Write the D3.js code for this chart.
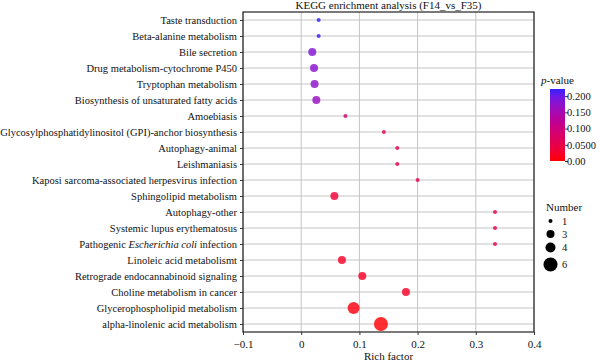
<!DOCTYPE html>
<html><head><meta charset="utf-8">
<script src="https://cdn.jsdelivr.net/npm/d3@7"></script>
<style>body{margin:0;background:#fff}svg{font-family:"Liberation Serif","DejaVu Serif",serif}</style>
</head><body><svg id="c" width="600" height="362"></svg>
<script>
const pathways = ["Taste transduction","Beta-alanine metabolism","Bile secretion","Drug metabolism-cytochrome P450","Tryptophan metabolism","Biosynthesis of unsaturated fatty acids","Amoebiasis","Glycosylphosphatidylinositol (GPI)-anchor biosynthesis","Autophagy-animal","Leishmaniasis","Kaposi sarcoma-associated herpesvirus infection","Sphingolipid metabolism","Autophagy-other","Systemic lupus erythematosus","Pathogenic Escherichia coli infection","Linoleic acid metabolismt","Retrograde endocannabinoid signaling","Choline metabolism in cancer","Glycerophospholipid metabolism","alpha-linolenic acid metabolism"];
const richFactor = [0.030,0.030,0.019,0.022,0.023,0.026,0.076,0.142,0.165,0.165,0.200,0.057,0.333,0.333,0.333,0.070,0.105,0.180,0.090,0.137];
const pValue = [0.222,0.220,0.185,0.180,0.175,0.165,0.085,0.065,0.060,0.060,0.057,0.030,0.055,0.055,0.055,0.020,0.018,0.020,0.006,0.002];
const geneNumber = [1,1,3,3,3,3,1,1,1,1,1,3,1,1,1,3,3,3,5,6];
const xTicks = [-0.1,0,0.1,0.2,0.3,0.4];
const pTicks = [0,0.05,0.1,0.15,0.2];
const pTickLabels = ["0.00","0.0500","0.100","0.150","0.200"];
const sizeBreaks = [1,3,4,6];

const svg = d3.select("#c");
const L=243,R=534,T=12,B=332;
const x = d3.scaleLinear().domain([-0.1,0.4]).range([L,R]);
const y = d3.scalePoint().domain(pathways).range([T,B]).padding(0.5);
const pMax = 0.222;
const color = d3.scaleLinear().domain([0,pMax]).range(["#ff0000","#3320ff"]).interpolate(d3.interpolateLab);
const size = d3.scaleLinear().domain([1,6]).range([2,7]);

// grid
const g = svg.append("g");
g.selectAll(".gx").data(xTicks).join("line").attr("x1",d=>x(d)).attr("x2",d=>x(d)).attr("y1",T).attr("y2",B).attr("stroke","#c4c4c4").attr("stroke-width",1);
g.selectAll(".gy").data(pathways).join("line").attr("x1",L).attr("x2",R).attr("y1",d=>y(d)).attr("y2",d=>y(d)).attr("stroke","#c4c4c4").attr("stroke-width",1);

// points
svg.append("g").selectAll("circle").data(pathways).join("circle")
  .attr("cx",(d,i)=>x(richFactor[i])).attr("cy",d=>y(d))
  .attr("r",(d,i)=>size(geneNumber[i]))
  .attr("fill",(d,i)=>color(pValue[i])).attr("fill-opacity",0.82);

// border
svg.append("rect").attr("x",L).attr("y",T).attr("width",R-L).attr("height",B-T).attr("fill","none").attr("stroke","#222").attr("stroke-width",1.2);

// axes
const xAxis = svg.append("g").attr("transform",`translate(0,${B})`).call(d3.axisBottom(x).tickValues(xTicks).tickSize(3).tickFormat(d=>d===0?"0":d3.format(".1f")(d).replace("-","\u2212")));
xAxis.select(".domain").remove();
xAxis.selectAll("text").attr("font-size",11).attr("fill","#111").attr("dy","0.9em").attr("font-family","Liberation Serif");
xAxis.selectAll("line").attr("stroke","#333");

const yAxis = svg.append("g").attr("transform",`translate(${L},0)`).call(d3.axisLeft(y).tickSize(3).tickPadding(3));
yAxis.select(".domain").remove();
yAxis.selectAll("line").attr("stroke","#333");
yAxis.selectAll("text").attr("font-size",10.5).attr("fill","#111").attr("font-family","Liberation Serif")
  .each(function(d){
    if(d.includes("Escherichia coli")){
      const t=d3.select(this); t.text(null);
      t.append("tspan").text("Pathogenic ");
      t.append("tspan").attr("font-style","italic").text("Escherichia coli");
      t.append("tspan").text(" infection");
    }
  });

// titles
svg.append("text").attr("x",(L+R)/2).attr("y",8.5).attr("text-anchor","middle").attr("font-size",11).attr("fill","#111").text("KEGG enrichment analysis (F14_vs_F35)");
svg.append("text").attr("x",(L+R)/2).attr("y",360).attr("text-anchor","middle").attr("font-size",11).attr("fill","#111").text("Rich factor");

// color legend
const defs = svg.append("defs");
const grad = defs.append("linearGradient").attr("id","pg").attr("x1",0).attr("y1",1).attr("x2",0).attr("y2",0);
d3.range(0,1.01,0.1).forEach(t=>grad.append("stop").attr("offset",t).attr("stop-color",color(t*pMax)));
const cy = d3.scaleLinear().domain([0,pMax]).range([161,89]);
const pt = svg.append("text").attr("x",541).attr("y",84).attr("font-size",11).attr("fill","#111");
pt.append("tspan").attr("font-style","italic").text("p");
pt.append("tspan").text("-value");
svg.append("rect").attr("x",550).attr("y",cy(pMax)).attr("width",15).attr("height",cy(0)-cy(pMax)).attr("fill","url(#pg)");
const cl = svg.append("g").attr("transform","translate(565,0)").call(d3.axisRight(cy).tickValues(pTicks).tickSize(3).tickFormat((d,i)=>pTickLabels[i]));
cl.select(".domain").remove();
cl.selectAll("line").attr("stroke","#333");
cl.selectAll("text").attr("font-size",10.5).attr("fill","#111").attr("font-family","Liberation Serif").attr("x",2);

// size legend
svg.append("text").attr("x",546).attr("y",211).attr("font-size",11).attr("fill","#111").text("Number");
const sy = [221,234,247.5,264.5];
const sl = svg.append("g");
sl.selectAll("circle").data(sizeBreaks).join("circle").attr("cx",550.5).attr("cy",(d,i)=>sy[i]).attr("r",d=>size(d)).attr("fill","#000");
sl.selectAll("text").data(sizeBreaks).join("text").attr("x",562).attr("y",(d,i)=>sy[i]+3.8).attr("font-size",10.5).attr("fill","#111").text(d=>d);
</script></body></html>
